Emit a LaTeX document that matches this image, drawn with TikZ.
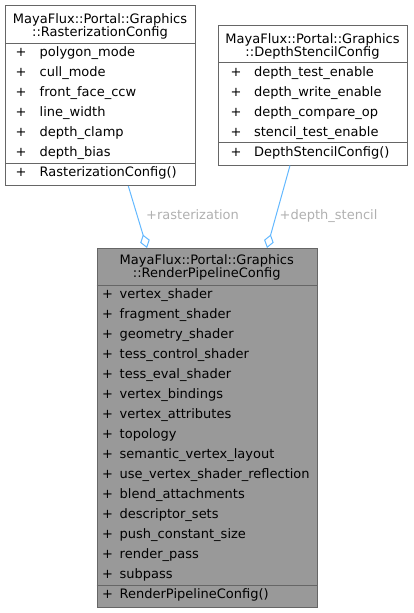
\documentclass[tikz,border=0pt]{standalone}
\usepackage{fontspec}
\setmainfont{DejaVu Sans}
\usetikzlibrary{arrows.meta,calc}
\definecolor{boxborder}{HTML}{666666}
\definecolor{focusfill}{HTML}{999999}
\definecolor{edgeblue}{HTML}{63B8FF}
\definecolor{labelgray}{HTML}{B0B0B0}
\begin{document}
\begin{tikzpicture}[x=1pt,y=-1pt,font=\fontsize{13}{15}\selectfont,
  box/.style={draw=boxborder,line width=1pt,fill=white,inner sep=0pt,anchor=north west},
  focusbox/.style={box,fill=focusfill},
  txt/.style={anchor=base west,inner sep=0pt},
  ttl/.style={anchor=base,inner sep=0pt},
  sepline/.style={draw=boxborder,line width=1pt},
  edge/.style={draw=edgeblue,line width=1pt,-{Diamond[open,length=14pt,width=10pt]}},
  lbl/.style={anchor=base west,inner sep=0pt,text=labelgray}]
\useasboundingbox (0,0) rectangle (413,613);

% ---------- RasterizationConfig ----------
\node[box,minimum width=190pt,minimum height=180pt] (ras) at (5,5) {};
\node[ttl] (rasT1) at (100,23.8) {MayaFlux::Portal::Graphics};
\node[ttl] (rasT2) at (100,36.8) {::RasterizationConfig};
\draw[sepline] ([yshift=-38pt]ras.north west) -- ([yshift=-38pt]ras.north east);
\foreach \t [count=\i from 0] in {polygon\_mode,cull\_mode,front\_face\_ccw,line\_width,depth\_clamp,depth\_bias}{
  \node[txt] (rasP\i) at (15.4,56.8+20*\i) {+};
  \node[txt] (rasA\i) at (39.5,56.8+20*\i) {\t};
}
\draw[sepline] ([yshift=-158pt]ras.north west) -- ([yshift=-158pt]ras.north east);
\node[txt] (rasMP) at (15.4,176.8) {+};
\node[txt] (rasM) at (39.5,176.8) {RasterizationConfig()};

% ---------- DepthStencilConfig ----------
\node[box,minimum width=189pt,minimum height=140pt] (dep) at (218,24.5) {};
\node[ttl] (depT1) at (312.5,43.3) {MayaFlux::Portal::Graphics};
\node[ttl] (depT2) at (312.5,56.3) {::DepthStencilConfig};
\draw[sepline] ([yshift=-38pt]dep.north west) -- ([yshift=-38pt]dep.north east);
\foreach \t [count=\i from 0] in {depth\_test\_enable,depth\_write\_enable,depth\_compare\_op,stencil\_test\_enable}{
  \node[txt] (depP\i) at (230.4,76.3+20*\i) {+};
  \node[txt] (depA\i) at (253.8,76.3+20*\i) {\t};
}
\draw[sepline] ([yshift=-118pt]dep.north west) -- ([yshift=-118pt]dep.north east);
\node[txt] (depMP) at (230.4,156.3) {+};
\node[txt] (depM) at (253.8,156.3) {DepthStencilConfig()};

% ---------- RenderPipelineConfig ----------
\node[focusbox,minimum width=220.5pt,minimum height=359pt] (main) at (96.5,248) {};
\node[ttl] (mainT1) at (206.75,264.5) {MayaFlux::Portal::Graphics};
\node[ttl] (mainT2) at (206.75,277.5) {::RenderPipelineConfig};
\draw[sepline] ([yshift=-37pt]main.north west) -- ([yshift=-37pt]main.north east);
\foreach \t [count=\i from 0] in {vertex\_shader,fragment\_shader,geometry\_shader,tess\_control\_shader,tess\_eval\_shader,vertex\_bindings,vertex\_attributes,topology,semantic\_vertex\_layout,use\_vertex\_shader\_reflection,blend\_attachments,descriptor\_sets,push\_constant\_size,render\_pass,subpass}{
  \node[txt] (mainP\i) at (102,298.8+20*\i) {+};
  \node[txt] (mainA\i) at (119.5,298.8+20*\i) {\t};
}
\draw[sepline] ([yshift=-337pt]main.north west) -- ([yshift=-337pt]main.north east);
\node[txt] (mainMP) at (102,598.8) {+};
\node[txt] (mainM) at (119.5,598.8) {RenderPipelineConfig()};

% ---------- edges ----------
\draw[edge] ([xshift=123.3pt]ras.south west) -- ([xshift=50.5pt]main.north west);
\draw[edge] ([xshift=72pt]dep.south west) -- ([xshift=170.5pt]main.north west);
\node[lbl] (lblR) at (146,219.5) {+rasterization};
\node[lbl] (lblD) at (279.5,219.5) {+depth\_stencil};
\end{tikzpicture}
\end{document}
